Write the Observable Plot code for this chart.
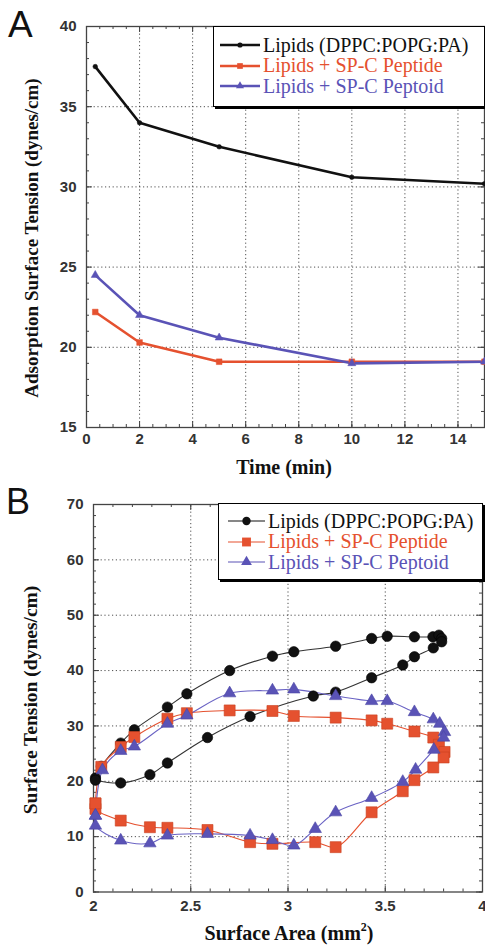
<!DOCTYPE html>
<html>
<head>
<meta charset="utf-8">
<script src="https://cdn.jsdelivr.net/npm/d3@7"></script>
<script src="https://cdn.jsdelivr.net/npm/@observablehq/plot@0.6"></script>
<style>
  html, body { margin: 0; padding: 0; background: #fff; }
  #wrap { position: relative; width: 485px; height: 946px; overflow: hidden; font-family: "Liberation Serif", "Times New Roman", serif; }
  .abs { position: absolute; }
  .ytitle { position: absolute; white-space: nowrap; line-height: 1; font-family: "Liberation Serif", "Times New Roman", serif; font-weight: bold; transform: translate(-50%, -50%) rotate(-90deg); color: #111; }
  .xtitle { position: absolute; white-space: nowrap; line-height: 1; font-family: "Liberation Serif", "Times New Roman", serif; font-weight: bold; transform: translate(-50%, -50%); color: #111; }
  .panel { position: absolute; font-family: "Liberation Sans", Arial, sans-serif; color: #111; line-height: 1; }
  .legend { position: absolute; background: #fff; border: 1.5px solid #000; box-shadow: 2px 2px 0 #000; box-sizing: border-box; }
  .legend .row { display: flex; align-items: center; height: 20.5px; white-space: nowrap; font-family: "Liberation Serif", "Times New Roman", serif; font-size: 20px; }
  .legend svg { flex: none; }
</style>
</head>
<body>
<div id="wrap">
  <div id="chartA" class="abs" style="left:0;top:0"></div>
  <div id="chartB" class="abs" style="left:0;top:480px"></div>
</div>
<script>
// ---------- Panel A data ----------
const timeA = [0.33, 2, 5, 10, 15];
const lipidsA = [37.5, 34.0, 32.5, 30.6, 30.2];
const peptideA = [22.2, 20.3, 19.1, 19.1, 19.1];
const peptoidA = [24.5, 22.0, 20.6, 19.0, 19.1];
const xTicksA = [0, 2, 4, 6, 8, 10, 12, 14];
const yTicksA = [15, 20, 25, 30, 35, 40];

// ---------- Panel B data ----------
const lipidsArea = [2.01, 2.04, 2.14, 2.21, 2.38, 2.48, 2.70, 2.92, 3.03, 3.245, 3.43, 3.51, 3.65, 3.745, 3.776, 3.79, 3.79, 3.747, 3.65, 3.59, 3.43, 3.245, 3.13, 2.805, 2.586, 2.38, 2.29, 2.14, 2.01];
const lipidsTension = [20.6, 22.7, 26.9, 29.3, 33.4, 35.8, 40.0, 42.6, 43.4, 44.4, 45.8, 46.2, 46.1, 46.1, 46.4, 45.8, 45.2, 44.1, 42.5, 41.0, 38.7, 36.1, 35.4, 31.7, 27.9, 23.3, 21.2, 19.7, 20.2];
const peptideArea = [2.01, 2.04, 2.14, 2.21, 2.38, 2.48, 2.70, 2.92, 3.03, 3.245, 3.43, 3.51, 3.65, 3.747, 3.776, 3.805, 3.80, 3.747, 3.65, 3.59, 3.43, 3.245, 3.14, 2.92, 2.805, 2.586, 2.38, 2.29, 2.14, 2.01, 2.01];
const peptideTension = [16.0, 22.6, 26.2, 28.0, 31.3, 32.3, 32.8, 32.7, 31.8, 31.5, 31.0, 30.4, 29.0, 27.9, 26.6, 25.3, 24.3, 22.5, 20.2, 18.2, 14.4, 8.1, 9.0, 8.7, 9.0, 11.2, 11.6, 11.7, 12.9, 15.0, 16.0];
const peptoidArea = [2.01, 2.046, 2.14, 2.21, 2.38, 2.48, 2.70, 2.92, 3.03, 3.245, 3.43, 3.51, 3.65, 3.747, 3.78, 3.805, 3.80, 3.75, 3.656, 3.59, 3.43, 3.245, 3.14, 3.03, 2.92, 2.805, 2.586, 2.38, 2.29, 2.14, 2.01, 2.01];
const peptoidTension = [13.8, 22.0, 25.5, 26.3, 30.4, 31.9, 35.9, 36.4, 36.6, 35.4, 34.5, 34.5, 32.5, 31.2, 30.4, 28.9, 27.9, 25.7, 22.1, 19.9, 17.0, 14.4, 11.4, 8.4, 9.4, 10.2, 10.5, 10.2, 8.8, 9.3, 12.0, 13.8];
const xTicksB = [2, 2.5, 3, 3.5, 4];
const yTicksB = [0, 10, 20, 30, 40, 50, 60, 70];

const seriesNames = ["Lipids (DPPC:POPG:PA)", "Lipids + SP-C Peptide", "Lipids + SP-C Peptoid"];
const colors = ["#111111", "#e5512f", "#5a53b6"];
const symbols = ["circle", "square", "triangle"];

const zip = (xs, ys) => xs.map((x, i) => ({x, y: ys[i]}));

function ticksAndGrid({xDomain, yDomain, xMajor, yMajor, xMinorStep, yMinorStep, W, H}) {
  const xMinor = d3.range(xDomain[0], xDomain[1] + 1e-9, xMinorStep);
  const yMinor = d3.range(yDomain[0], yDomain[1] + 1e-9, yMinorStep);
  const gx = xMajor.filter(v => v > xDomain[0] && v < xDomain[1]);
  const gy = yMajor.filter(v => v > yDomain[0] && v < yDomain[1]);
  const dash = {stroke: "#333", strokeWidth: 1, strokeDasharray: "1.2,2.6", strokeOpacity: 0.85};
  const tk = {stroke: "#444", strokeWidth: 1};
  return [
    Plot.ruleX(gx, {x: d => d, ...dash}),
    Plot.ruleY(gy, {y: d => d, ...dash}),
    Plot.ruleX(xMinor, {x: d => d, insetTop: H - 3, ...tk}),
    Plot.ruleX(xMinor, {x: d => d, insetBottom: H - 3, ...tk}),
    Plot.ruleX(xMajor, {x: d => d, insetTop: H - 6, ...tk}),
    Plot.ruleX(xMajor, {x: d => d, insetBottom: H - 6, ...tk}),
    Plot.ruleY(yMinor, {y: d => d, insetRight: W - 3, ...tk}),
    Plot.ruleY(yMinor, {y: d => d, insetLeft: W - 3, ...tk}),
    Plot.ruleY(yMajor, {y: d => d, insetRight: W - 6, ...tk}),
    Plot.ruleY(yMajor, {y: d => d, insetLeft: W - 6, ...tk}),
  ];
}

// ---------- Panel A ----------
{
  const mL = 86, mR = 1, mT = 26, mB = 53, width = 485, height = 480;
  const W = width - mL - mR, H = height - mT - mB;
  const ser = [lipidsA, peptideA, peptoidA].map(v => zip(timeA, v));
  const sizes = [2.3, 3.2, 3.0];
  const chart = Plot.plot({
    width, height, marginLeft: mL, marginRight: mR, marginTop: mT, marginBottom: mB,
    style: {fontFamily: "Liberation Sans, Arial, sans-serif", fontSize: "15px", background: "#fff", color: "#222"},
    x: {domain: [0, 15]},
    y: {domain: [15, 40]},
    marks: [
      ...ticksAndGrid({xDomain: [0, 15], yDomain: [15, 40], xMajor: xTicksA, yMajor: yTicksA, xMinorStep: 0.5, yMinorStep: 1, W, H}),
      Plot.frame({stroke: "#444", strokeWidth: 1.3}),
      ...ser.map((d, i) => Plot.line(d, {x: "x", y: "y", stroke: colors[i], strokeWidth: 2.6})),
      ...ser.map((d, i) => Plot.dot(d, {x: "x", y: "y", symbol: symbols[i], r: sizes[i], fill: colors[i], stroke: colors[i], strokeWidth: 0.5})),
      Plot.axisX({ticks: xTicksA, tickSize: 0, tickPadding: 6, label: null, tickFormat: d => String(d), fontWeight: "bold", fill: "#333"}),
      Plot.axisY({ticks: yTicksA, tickSize: 0, tickPadding: 10, label: null, tickFormat: d => String(d), fontWeight: "bold", fill: "#333"})
    ]
  });
  document.getElementById("chartA").appendChild(chart);
}

// ---------- Panel B ----------
{
  const mL = 93, mR = 3, mT = 24, mB = 54.5, width = 485, height = 466;
  const W = width - mL - mR, H = height - mT - mB;
  const ser = [zip(lipidsArea, lipidsTension), zip(peptideArea, peptideTension), zip(peptoidArea, peptoidTension)];
  const sizes = [5.2, 6.2, 4.6];
  const strokes = ["#000", "#c9401f", "#4a44a4"];
  const lineColors = ["#333", "#e5512f", "#6a63c4"];
  const chart = Plot.plot({
    width, height, marginLeft: mL, marginRight: mR, marginTop: mT, marginBottom: mB,
    style: {fontFamily: "Liberation Sans, Arial, sans-serif", fontSize: "15px", background: "transparent", color: "#222"},
    x: {domain: [2, 4]},
    y: {domain: [0, 70]},
    marks: [
      ...ticksAndGrid({xDomain: [2, 4], yDomain: [0, 70], xMajor: xTicksB, yMajor: yTicksB, xMinorStep: 0.1, yMinorStep: 2, W, H}),
      Plot.frame({stroke: "#444", strokeWidth: 1.3}),
      ...ser.map((d, i) => Plot.line(d, {x: "x", y: "y", stroke: lineColors[i], strokeWidth: 1.1, curve: "catmull-rom"})),
      ...ser.map((d, i) => Plot.dot(d, {x: "x", y: "y", symbol: symbols[i], r: sizes[i], fill: colors[i], stroke: strokes[i], strokeWidth: 0.6})),
      Plot.axisX({ticks: xTicksB, tickSize: 0, tickPadding: 8, label: null, tickFormat: d => String(d), fontWeight: "bold", fill: "#333"}),
      Plot.axisY({ticks: yTicksB, tickSize: 0, tickPadding: 10, label: null, tickFormat: d => String(d), fontWeight: "bold", fill: "#333"})
    ]
  });
  document.getElementById("chartB").appendChild(chart);
}

// ---------- Titles, panel letters, legends ----------
const wrap = document.getElementById("wrap");
function addDiv(cls, text, css) {
  const d = document.createElement("div");
  d.className = cls;
  d.innerHTML = text;
  Object.assign(d.style, css);
  wrap.appendChild(d);
  return d;
}
addDiv("panel", "A", {left: "8px", top: "6px", fontSize: "37px"});
addDiv("panel", "B", {left: "6px", top: "484px", fontSize: "36px"});
addDiv("ytitle", "Adsorption Surface Tension (dynes/cm)", {left: "31px", top: "238px", fontSize: "19px"});
addDiv("ytitle", "Surface Tension (dynes/cm)", {left: "31px", top: "700px", fontSize: "19.5px"});
addDiv("xtitle", "Time (min)", {left: "284px", top: "467px", fontSize: "20px"});
addDiv("xtitle", "Surface Area (mm<sup style=\"font-size:12px;line-height:0;vertical-align:9px\">2</sup>)", {left: "289px", top: "933px", fontSize: "20px"});

function legend(css, lineW, sampleW, markerR, padLeft) {
  const box = document.createElement("div");
  box.className = "legend";
  Object.assign(box.style, css);
  seriesNames.forEach((name, i) => {
    const row = document.createElement("div");
    row.className = "row";
    row.style.color = colors[i];
    row.style.paddingLeft = padLeft + "px";
    const w = sampleW, h = 14;
    const sym = d3.symbol(symbols[i] === "circle" ? d3.symbolCircle : symbols[i] === "square" ? d3.symbolSquare : d3.symbolTriangle, Math.PI * markerR[i] * markerR[i])();
    row.innerHTML = `<svg width="${w}" height="${h}"><line x1="0" x2="${w}" y1="${h/2}" y2="${h/2}" stroke="${colors[i]}" stroke-width="${lineW}"/><path d="${sym}" transform="translate(${w/2},${h/2})" fill="${colors[i]}"/></svg><span style="margin-left:3px;font-family:'Liberation Serif','Times New Roman',serif">${name}</span>`;
    box.appendChild(row);
  });
  wrap.appendChild(box);
}
legend({left: "213px", top: "26px", width: "272px", height: "81px", paddingTop: "8px"}, 2.4, 40, [2.6, 3.2, 3.0], 6);
legend({left: "218px", top: "503px", width: "265px", height: "77px", paddingTop: "7px"}, 1.1, 37, [4.2, 5, 4], 9);
</script>
</body>
</html>
